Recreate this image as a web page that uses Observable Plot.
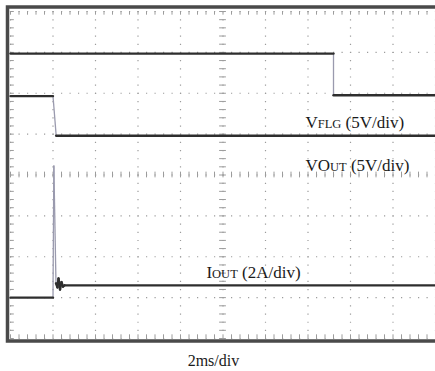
<!DOCTYPE html>
<html><head><meta charset="utf-8">
<script src="https://cdn.jsdelivr.net/npm/d3@7"></script>
<script src="https://cdn.jsdelivr.net/npm/@observablehq/plot@0.6"></script>
<style>body{margin:0;background:#fff} svg{display:block;background:#fff}</style>
</head><body><div id="chart"></div>
<script>
// time in ms (2 ms/div, 10 div), vertical position in screen divisions (0 = bottom, 8 = top)
const vflgT = [0, 15.2, 15.2, 20];
const vflgV = [6.97, 6.97, 5.95, 5.95];
const voutT = [0, 2.0, 2.15, 20];
const voutV = [5.93, 5.93, 4.96, 4.96];
const ioutT = [0, 2.0, 2.04, 2.14, 2.21, 2.26, 2.33, 2.40, 2.47, 2.54, 20];
const ioutV = [1.0, 1.0, 4.23, 1.35, 1.25, 1.47, 1.2, 1.38, 1.27, 1.3, 1.3];

const labelText = ["VFLG (5V/div)", "VOUT (5V/div)", "IOUT (2A/div)"];
const labelT = [13.88, 13.88, 9.22];
const labelV = [5.14, 4.11, 1.49];
const labelSmall = [[1, 4], [2, 4], [1, 4]];
const timeLabel = "2ms/div";
const timeLabelT = 9.55;
const timeLabelV = -0.685;

const gridT = [0, 2, 4, 6, 8, 10, 12, 14, 16, 18, 20];
const gridV = [0, 1, 2, 3, 4, 5, 6, 7, 8];

const mk = (T, V) => T.map((t, i) => ({t, v: V[i]}));
const traces = [mk(vflgT, vflgV), mk(voutT, voutV), mk(ioutT, ioutV)];
const flat = [], steep = [];
for (const tr of traces) for (let i = 1; i < tr.length; i++) {
  const s = {t1: tr[i-1].t, v1: tr[i-1].v, t2: tr[i].t, v2: tr[i].v};
  (Math.abs(s.v2 - s.v1) > 0.5 ? steep : flat).push(s);
}
const minorT = d3.range(0, 20.01, 0.4);
const minorV = d3.range(0, 8.01, 0.2);
const labels = labelText.map((text, i) => ({text, t: labelT[i], v: labelV[i]}));

const gridColor = "#9c9c9c";
const chart = Plot.plot({
  width: 435, height: 371,
  marginLeft: 10, marginRight: 0, marginTop: 11, marginBottom: 33,
  x: {domain: [0, 20], axis: null},
  y: {domain: [0, 8], axis: null},
  style: {background: "#fff"},
  marks: [
    Plot.ruleX(gridT, {stroke: gridColor, strokeWidth: 1.2, strokeDasharray: "1.2,6.975"}),
    Plot.ruleY(gridV, {stroke: gridColor, strokeWidth: 1.2, strokeDasharray: "1.2,7.3"}),
    Plot.ruleX(minorT, {y1: 3.93, y2: 4.07, stroke: gridColor}),
    Plot.ruleY(minorV, {x1: 9.84, x2: 10.16, stroke: gridColor}),
    Plot.ruleX(minorT, {y1: 7.91, y2: 8, stroke: gridColor}),
    Plot.ruleX(minorT, {y1: 0, y2: 0.09, stroke: gridColor}),
    Plot.ruleY(minorV, {x1: 0, x2: 0.18, stroke: gridColor}),
    Plot.frame({stroke: "#4a4a4a", strokeWidth: 3.5, insetLeft: -3, insetTop: -4.5, insetBottom: -2.5, insetRight: -6}),
    Plot.link(steep, {x1: "t1", y1: "v1", x2: "t2", y2: "v2", stroke: "#9a9aae", strokeWidth: 1.3}),
    Plot.link(flat, {x1: "t1", y1: "v1", x2: "t2", y2: "v2", stroke: "#2e2e2e", strokeWidth: 2.4, strokeLinecap: "round"}),
    Plot.text(labels, {x: "t", y: "v", text: "text", textAnchor: "start", lineAnchor: "bottom",
      fontSize: 17, fontFamily: "Liberation Serif", fill: "#1a1a1a"}),
    Plot.text([timeLabel], {x: timeLabelT, y: timeLabelV, text: d => d, textAnchor: "middle", lineAnchor: "bottom",
      fontSize: 16, fontFamily: "Liberation Serif", fill: "#1a1a1a"})
  ]
});
document.getElementById("chart").appendChild(chart);

// render the small-caps parts of the channel names as tspans
d3.select(chart).selectAll("text").each(function() {
  const s = this.textContent;
  const i = labelText.indexOf(s);
  if (i < 0) return;
  const [a, b] = labelSmall[i];
  const el = d3.select(this);
  el.text(null);
  el.append("tspan").text(s.slice(0, a));
  el.append("tspan").attr("font-size", 12.5).text(s.slice(a, b));
  el.append("tspan").text(s.slice(b));
});
</script>
</body></html>
